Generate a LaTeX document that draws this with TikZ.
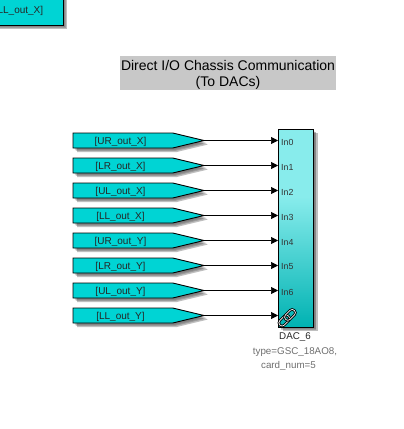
\documentclass[tikz,border=0pt]{standalone}
\usepackage{fontspec}
\setmainfont{Liberation Sans}
\usetikzlibrary{arrows.meta,shapes.symbols,calc}
\definecolor{blockcyan}{HTML}{00D4D4}
\definecolor{titlegray}{HTML}{C8C8C8}
\definecolor{annot}{HTML}{6E6E6E}
\definecolor{dactop}{HTML}{88ECEC}
\definecolor{dacbot}{HTML}{00B2B2}
\pgfdeclareverticalshading{dacshade}{100bp}{color(0bp)=(dacbot); color(25bp)=(dacbot); color(58bp)=(dactop); color(100bp)=(dactop)}
\tikzset{
  softshadow/.style={preaction={draw=none,fill=black,opacity=#1,transform canvas={shift={(#1*16pt,-#1*16pt)}}}},
  blockshadow/.style={softshadow=.08,softshadow=.13,softshadow=.18,softshadow=.25},
  gotoblock/.style={shape=signal,signal to=east,signal pointer angle=27,draw=black,line width=.9pt,fill=blockcyan,
    minimum height=15pt,minimum width=131pt,inner sep=0pt,outer sep=0pt,blockshadow},
  gotolabel/.style={text=black!85,font=\fontsize{10}{11}\selectfont,inner sep=0pt},
  wire/.style={line width=.7pt,-{Triangle[length=7pt,width=7pt]}},
  portlabel/.style={font=\fontsize{8.8}{10}\selectfont,text=black!80,anchor=west,inner sep=0pt},
  annotation/.style={font=\fontsize{9.8}{11}\selectfont,inner sep=0pt},
  linkpart/.style={draw=black,line width=.9pt,double=white,double distance=.7pt,rounded corners=3pt,minimum width=12.5pt,minimum height=6.4pt,inner sep=0pt,rotate=45},
}
\begin{document}
\begin{tikzpicture}[x=1pt,y=-1pt]
\useasboundingbox (0,0) rectangle (404,429);
% clipped block at the top
\node[draw=black,line width=.9pt,fill=blockcyan,minimum width=88pt,minimum height=30pt,inner sep=0pt,blockshadow] (fromtop) at (19,10) {};
\node[gotolabel] (fromlabel) at (19,11) {[LL\_out\_X]};
% title
\node[fill=titlegray,minimum width=216pt,minimum height=34pt,inner sep=0pt] (title) at (228,73) {};
\node[align=center,inner sep=0pt,font=\fontsize{14}{16}\selectfont] (titletext) at (228,74.5) {Direct I/O Chassis Communication\\(To DACs)};
% DAC block
\node[draw=black,line width=.9pt,minimum width=35pt,minimum height=197.5pt,inner sep=0pt,
  shading=dacshade,blockshadow] (dac) at (296,228.2) {};
% ports and gotos
\foreach \i/\lab/\yy in {0/UR\_out\_X/140.5,1/LR\_out\_X/165.5,2/UL\_out\_X/190.5,3/LL\_out\_X/215.5,
                         4/UR\_out\_Y/240.5,5/LR\_out\_Y/265.5,6/UL\_out\_Y/290.5,7/LL\_out\_Y/315.5}{
  \node[gotoblock,anchor=west] (g\i) at (73,\yy) {};
  \node[gotolabel,yshift=-1pt] (t\i) at (120.5,\yy) {[\lab]};
  \coordinate (p\i) at (278,\yy);
  \draw[wire] (g\i.east) -- (p\i);
}
\foreach \i in {0,...,6}{
  \node[portlabel] (in\i) at ($(p\i)+(3,1.5)$) {In\i};
}
% link icon
\node[linkpart] (linka) at (284.3,320.6) {};
\node[linkpart] (linkb) at (290,314.9) {};
% labels
\node[annotation,text=black!85] (daclabel) at (295,337.5) {DAC\_6};
\node[annotation,text=annot] (typelabel) at (295,352) {type=GSC\_18AO8,};
\node[annotation,text=annot] (cardlabel) at (288.5,366) {card\_num=5};
\end{tikzpicture}
\end{document}
